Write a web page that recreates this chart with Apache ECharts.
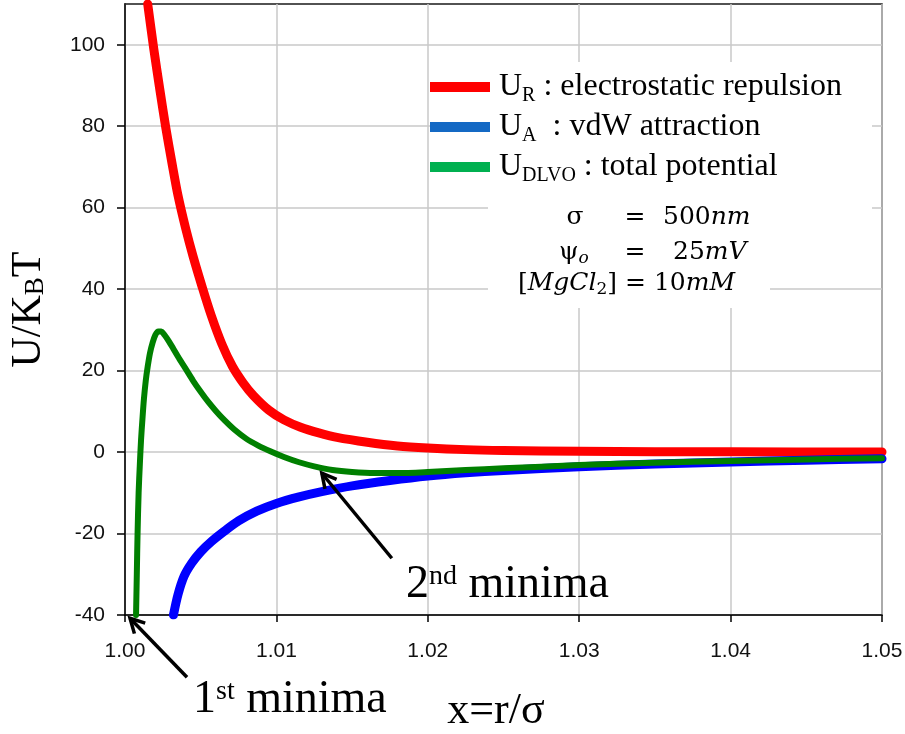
<!DOCTYPE html>
<html>
<head>
<meta charset="utf-8">
<script src="https://cdn.jsdelivr.net/npm/echarts@6/dist/echarts.min.js"></script>
<style>
  html, body { margin: 0; padding: 0; background: #fff; }
  #chart { width: 905px; height: 734px; }
</style>
</head>
<body>
<div id="chart"></div>
<script>
// DLVO interaction potential between two spheres, in units of k_B T, versus x = r / sigma

// U_R : electrostatic (double-layer) repulsion
const xRep = [1.0015, 1.0019, 1.0023, 1.0027, 1.0031, 1.0035, 1.0040, 1.0045, 1.0051, 1.0057,
              1.0064, 1.0071, 1.0078, 1.0085, 1.0095, 1.0105, 1.0116, 1.0128, 1.0140, 1.0160,
              1.0180, 1.0200, 1.0225, 1.0250, 1.0300, 1.0350, 1.0400, 1.0500];
const yRep = [110, 99, 89, 79.5, 71, 63, 55, 48, 40.5, 33.5,
              26.5, 21, 17, 13.8, 10.3, 7.9, 6.1, 4.7, 3.6, 2.4,
              1.5, 1.0, 0.6, 0.4, 0.2, 0.1, 0.05, 0.02];

// U_A : van der Waals attraction
const xAtt = [1.0032, 1.0035, 1.0039, 1.0044, 1.0050, 1.0057, 1.0065, 1.0075, 1.0087, 1.0100,
              1.0115, 1.0130, 1.0150, 1.0175, 1.0200, 1.0225, 1.0250, 1.0300, 1.0350, 1.0400,
              1.0450, 1.0500];
const yAtt = [-40, -35, -30.5, -27.3, -24.5, -22, -19.6, -16.9, -14.5, -12.6,
              -11.0, -9.7, -8.3, -7.0, -5.9, -5.1, -4.5, -3.6, -2.95, -2.45,
              -2.0, -1.65];

// U_DLVO : total potential (primary barrier, secondary minimum)
const xTot = [1.00073, 1.00078, 1.00083, 1.00090, 1.00098, 1.00106, 1.00115, 1.00125, 1.00137, 1.0015,
              1.00165, 1.00182, 1.0020, 1.0022, 1.0024, 1.0026, 1.0029, 1.0032, 1.0036, 1.0040,
              1.0045, 1.0050, 1.0055, 1.0060, 1.0066, 1.0072, 1.0080, 1.0088, 1.0096, 1.0105,
              1.0115, 1.0125, 1.0137, 1.0150, 1.0165, 1.0180, 1.0200, 1.0225, 1.0250, 1.0300,
              1.0350, 1.0400, 1.0450, 1.0500];
const yTot = [-40, -30, -20, -10, -3, 3, 8, 13, 17.5, 21,
              24.3, 26.8, 28.7, 29.6, 29.6, 28.8, 27.2, 25.3, 22.8, 20.5,
              17.5, 14.8, 12.3, 10.1, 7.7, 5.6, 3.3, 1.6, 0.2, -1.2,
              -2.5, -3.5, -4.4, -4.9, -5.15, -5.15, -4.9, -4.4, -4.0, -3.2,
              -2.6, -2.2, -1.8, -1.5];

// axis ticks
const yTicks = [-40, -20, 0, 20, 40, 60, 80, 100];

// annotated minima (arrow tips, data space)
const firstMinimum = [1.00033, -40.8];
const secondMinimum = [1.0130, -5.2];

const seriesNames = ['UR', 'UA', 'UDLVO'];
const legendLabels = {
  UR: '{m|U}{s|R}{m| : electrostatic repulsion}',
  UA: '{m|U}{s|A}{m|  : vdW attraction}',
  UDLVO: '{m|U}{s|DLVO}{m| : total potential}'
};
const lineColors = ['#ff0000', '#0000ff', '#008000'];
const legendColors = ['#ff0000', '#1469c4', '#00b050'];

const serif = '"Liberation Serif", "Times New Roman", serif';
const sans = '"Liberation Sans", Arial, sans-serif';
const mathFont = '"DejaVu Serif", serif';

const zip = (xs, ys) => xs.map((x, i) => [x, ys[i]]);

const chart = echarts.init(document.getElementById('chart'), null, { renderer: 'canvas' });

const GRID = { left: 125, top: 4, width: 757, height: 611 };

function lineSeries(i, xs, ys, width, z) {
  return {
    name: seriesNames[i],
    type: 'line',
    data: zip(xs, ys),
    showSymbol: false,
    smooth: 0.3,
    z: z,
    lineStyle: { color: lineColors[i], width: width, cap: 'round', join: 'round' },
    itemStyle: { color: lineColors[i] },
    emphasis: { disabled: true }
  };
}

function mathLine(x, y, text, align) {
  return {
    type: 'text', x: x, y: y, z: 6,
    style: {
      text: text, align: align || 'left', verticalAlign: 'middle',
      fill: '#000', font: '25px ' + mathFont,
      rich: {
        n: { fontFamily: mathFont, fontSize: 25, color: '#000' },
        i: { fontFamily: mathFont, fontSize: 25, fontStyle: 'italic', color: '#000' },
        sub: { fontFamily: mathFont, fontSize: 17, fontStyle: 'italic', color: '#000', padding: [14, 0, 0, 0] },
        sub2: { fontFamily: mathFont, fontSize: 17, color: '#000', padding: [14, 0, 0, 0] }
      }
    }
  };
}

function bigLabel(x, y, text) {
  return {
    type: 'text', x: x, y: y, z: 6,
    style: {
      text: text, align: 'left', verticalAlign: 'middle', fill: '#000',
      font: '46px ' + serif,
      rich: {
        m: { fontFamily: serif, fontSize: 46, color: '#000', lineHeight: 52 },
        p: { fontFamily: serif, fontSize: 28, color: '#000', lineHeight: 52, padding: [0, 0, 17, 0] }
      }
    }
  };
}

const option = {
  animation: false,
  backgroundColor: '#fff',
  grid: Object.assign({
    show: true, borderColor: '#1a1a1a', borderWidth: 1.5, backgroundColor: 'transparent',
    containLabel: false, outerBoundsMode: 'none'
  }, GRID),
  xAxis: {
    type: 'value', min: 1.0, max: 1.05, interval: 0.01,
    name: 'x=r/σ', nameLocation: 'middle', nameGap: 74,
    nameTextStyle: { fontFamily: serif, fontSize: 44, color: '#000', padding: [0, 15, 0, 0] },
    axisLine: { show: true, onZero: false, lineStyle: { color: '#000', width: 1.5 } },
    axisTick: { show: true, length: 7, lineStyle: { color: '#000', width: 1.5 } },
    axisLabel: { margin: 26, fontFamily: sans, fontSize: 21, color: '#111',
                 formatter: v => Number(v).toFixed(2) },
    splitLine: { show: true, lineStyle: { color: '#c8c8c8', width: 1.5 } }
  },
  yAxis: {
    type: 'value', min: -40, max: 110, interval: 20,
    name: '{m|U/K}{s|B}{m|T}', nameLocation: 'middle', nameGap: 72, nameRotate: 90,
    nameTextStyle: {
      fontFamily: serif, fontSize: 42, color: '#000', lineHeight: 48,
      rich: {
        m: { fontFamily: serif, fontSize: 42, color: '#000', lineHeight: 48 },
        s: { fontFamily: serif, fontSize: 27, color: '#000', lineHeight: 48, padding: [14, 0, 0, 0] }
      }
    },
    axisLine: { show: true, onZero: false, lineStyle: { color: '#000', width: 1.5 } },
    axisTick: { show: true, length: 8, customValues: yTicks, lineStyle: { color: '#000', width: 1.5 } },
    axisLabel: { margin: 20, customValues: yTicks, fontFamily: sans, fontSize: 21, color: '#111',
                 formatter: v => (v > 100 ? '' : String(v)) },
    splitLine: { show: true, lineStyle: { color: '#c8c8c8', width: 1.5 } }
  },
  legend: {
    orient: 'vertical', left: 430, top: 68, padding: 0, itemGap: 2,
    itemWidth: 60, itemHeight: 10, icon: 'rect', selectedMode: false,
    itemStyle: { borderWidth: 0 },
    data: seriesNames.map((n, i) => ({ name: n, itemStyle: { color: legendColors[i] } })),
    formatter: name => legendLabels[name],
    textStyle: {
      fontFamily: serif, fontSize: 32, color: '#000', lineHeight: 35, padding: [0, 0, 0, 4],
      rich: {
        m: { fontFamily: serif, fontSize: 32, color: '#000', lineHeight: 35 },
        s: { fontFamily: serif, fontSize: 20, color: '#000', lineHeight: 35, padding: [18, 0, 0, 0] }
      }
    }
  },
  series: [
    lineSeries(0, xRep, yRep, 9, 2),
    lineSeries(1, xAtt, yAtt, 9, 3),
    lineSeries(2, xTot, yTot, 6, 4)
  ]
};

chart.setOption(option);

// annotation layer: white panels behind the legend and parameters, parameter text, minima arrows
function arrow(tip, dx, dy) {
  const len = Math.hypot(dx, dy);
  const ux = dx / len, uy = dy / len;
  const wing = 16, ang = 28 * Math.PI / 180;
  const rot = (a) => [tip[0] + wing * (ux * Math.cos(a) - uy * Math.sin(a)),
                      tip[1] + wing * (ux * Math.sin(a) + uy * Math.cos(a))];
  const style = { stroke: '#000', lineWidth: 3.5, fill: null, lineCap: 'butt', lineJoin: 'miter' };
  return [
    { type: 'line', z: 7, shape: { x1: tip[0], y1: tip[1], x2: tip[0] + dx, y2: tip[1] + dy }, style: style },
    { type: 'polyline', z: 7, shape: { points: [rot(ang), tip, rot(-ang)] }, style: style }
  ];
}

const tip1 = chart.convertToPixel({ gridIndex: 0 }, firstMinimum);
const tip2 = chart.convertToPixel({ gridIndex: 0 }, secondMinimum);

chart.setOption({
  graphic: [
    { type: 'rect', z: 1, shape: { x: 430, y: 62, width: 442, height: 128 }, style: { fill: '#fff' } },
    { type: 'rect', z: 1, shape: { x: 488, y: 190, width: 384, height: 78 }, style: { fill: '#fff' } },
    { type: 'rect', z: 1, shape: { x: 488, y: 268, width: 282, height: 40 }, style: { fill: '#fff' } },

    mathLine(575, 217, '{n|σ}', 'center'),
    mathLine(635, 217, '{n|=}', 'center'),
    mathLine(663, 217, '{n|500}{i|nm}'),
    mathLine(559, 252, '{n|ψ}{sub|o}'),
    mathLine(635, 252, '{n|=}', 'center'),
    mathLine(673, 252, '{n|25}{i|mV}'),
    mathLine(518, 283, '{n|[}{i|MgCl}{sub2|2}{n|] = 10}{i|mM}'),

    bigLabel(193, 700, '{m|1}{p|st}{m| minima}'),
    bigLabel(406, 585, '{m|2}{p|nd}{m| minima}'),

    ...arrow(tip1, 57, 59),
    ...arrow(tip2, 70, 85)
  ]
});
</script>
</body>
</html>
